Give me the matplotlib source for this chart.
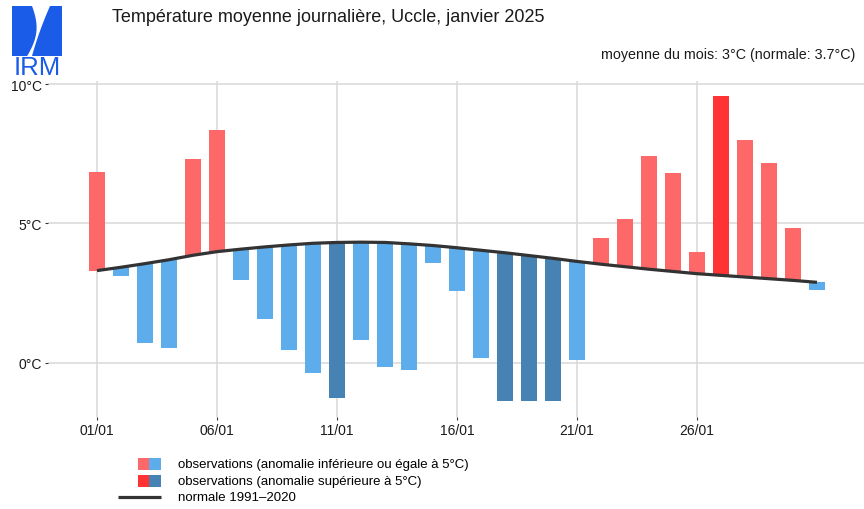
import numpy as np
import matplotlib
matplotlib.use('Agg')
import matplotlib.pyplot as plt
from matplotlib.patches import Rectangle, Polygon

plt.rcParams['font.family'] = ['Liberation Sans', 'DejaVu Sans']

# données (Uccle, janvier 2025)
jours = np.arange(1, 32)
normale = [3.31, 3.43, 3.56, 3.70, 3.86, 3.99, 4.08, 4.16, 4.23, 4.29, 4.32, 4.33, 4.32, 4.27,
           4.21, 4.13, 4.04, 3.95, 3.85, 3.75, 3.64, 3.54, 3.45, 3.36, 3.28, 3.20, 3.14, 3.08,
           3.02, 2.96, 2.89]
obs = [6.86, 3.11, 0.70, 0.54, 7.31, 8.36, 2.97, 1.58, 0.47, -0.37, -1.25, 0.82, -0.16, -0.27,
       3.60, 2.59, 0.17, -1.35, -1.35, -1.35, 0.10, 4.47, 5.16, 7.42, 6.80, 3.97, 9.56, 7.98,
       7.16, 4.83, 2.61]
tick_jours = [1, 6, 11, 16, 21, 26]
tick_labels = ['01/01', '06/01', '11/01', '16/01', '21/01', '26/01']
y_ticks = [0, 5, 10]
y_labels = ['0°C', '5°C', '10°C']

rouge_clair, rouge_fonce = '#FF6868', '#FF3333'
bleu_clair, bleu_fonce = '#5DADEC', '#4682B4'

normale = np.array(normale)
obs = np.array(obs)
anomalie = obs - normale
couleurs = []
for a in anomalie:
    if a > 0:
        couleurs.append(rouge_fonce if a > 5 else rouge_clair)
    else:
        couleurs.append(bleu_fonce if a < -5 else bleu_clair)

W, H = 864, 510
fig = plt.figure(figsize=(W / 100, H / 100), dpi=100)
ax = fig.add_axes([48 / W, 1 - 418 / H, 1 - 48 / W, (418 - 82) / H])

ax.bar(jours, np.abs(anomalie), bottom=np.minimum(obs, normale), width=0.66,
       color=couleurs, zorder=2)
ax.plot(jours, normale, color='#333333', lw=2.3, zorder=3, solid_capstyle='butt')

ax.set_xlim(-1.04, 32.96)
ax.set_ylim(-1.94, 10.11)
ax.set_xticks(tick_jours)
ax.set_xticklabels(tick_labels)
ax.set_yticks(y_ticks)
ax.set_yticklabels(y_labels)
ax.grid(True, color='#D9D9D9', lw=1.1, zorder=0)
ax.set_axisbelow(True)
for s in ax.spines.values():
    s.set_visible(False)
ax.tick_params(axis='both', length=2.5, width=0.8, color='#333333', labelsize=10,
               labelcolor='#1a1a1a', pad=2)

# couche en pixels pour le logo, les titres et la légende
ov = fig.add_axes([0, 0, 1, 1], facecolor='none')
ov.set_xlim(0, W)
ov.set_ylim(H, 0)
ov.axis('off')

# logo IRM : bloc bleu avec une vague blanche
bleu_irm = '#1A5CE8'
ov.add_patch(Rectangle((12, 7), 50, 50, color=bleu_irm, lw=0))
t = np.linspace(0, 1, 40)
yy = 7 + 50 * t
x_gauche = 32 + 7 * np.sin(np.pi * t * 0.9) - 7 * t ** 1.5
x_droite = 50 - 22 * t + 4 * t ** 2
pts = list(zip(x_gauche, yy)) + list(zip(x_droite[::-1], yy[::-1]))
ov.add_patch(Polygon(pts, closed=True, color='white', lw=0))
ov.text(37, 75, 'IRM', color=bleu_irm, fontsize=18.5, ha='center', va='baseline')

ov.text(112, 18, 'Température moyenne journalière, Uccle, janvier 2025', fontsize=13,
        va='center', ha='left', color='#1a1a1a')
ov.text(855, 55, 'moyenne du mois: 3°C (normale: 3.7°C)', fontsize=10.3,
        va='center', ha='right', color='#1a1a1a')

# légende
ov.add_patch(Rectangle((138, 459), 11, 12, color=rouge_clair, lw=0))
ov.add_patch(Rectangle((149, 459), 12, 12, color=bleu_clair, lw=0))
ov.add_patch(Rectangle((138, 476), 11, 12, color=rouge_fonce, lw=0))
ov.add_patch(Rectangle((149, 476), 12, 12, color=bleu_fonce, lw=0))
ov.plot([118, 161], [498, 498], color='#333333', lw=2.3, solid_capstyle='butt')
ov.text(178, 465, 'observations (anomalie inférieure ou égale à 5°C)', fontsize=9.5, va='center')
ov.text(178, 482, 'observations (anomalie supérieure à 5°C)', fontsize=9.5, va='center')
ov.text(178, 498, 'normale 1991–2020', fontsize=9.5, va='center')

fig.savefig('out.png', dpi=100)
